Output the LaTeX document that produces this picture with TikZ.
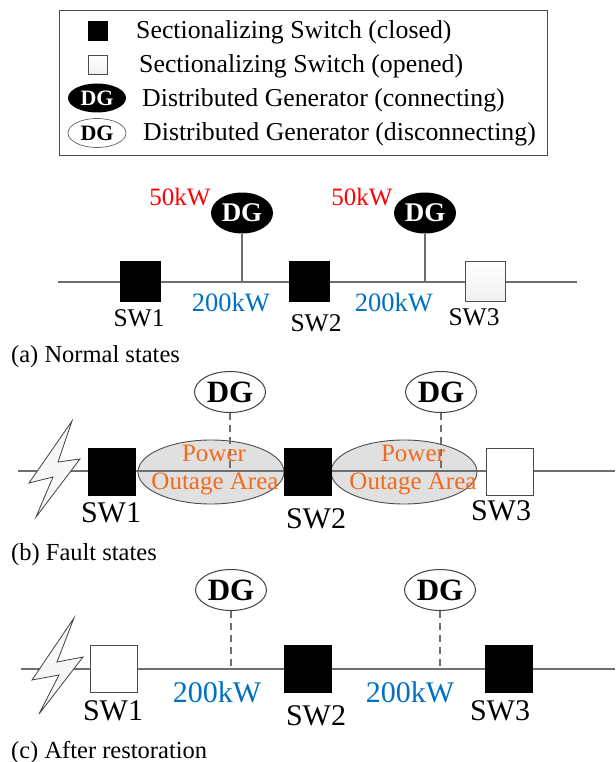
\documentclass[tikz,border=0pt]{standalone}
\usepackage{fontspec}
\setmainfont{Liberation Serif}
\usetikzlibrary{shapes.geometric,shapes.misc}
\definecolor{blueval}{HTML}{0070C0}
\definecolor{orangeval}{HTML}{F26A1B}
\definecolor{wire}{HTML}{6E6E6E}
\newcommand{\fsz}[1]{\fontsize{#1}{#1}\selectfont}
\tikzset{
 x=1pt,y=-1pt,
 swc/.style={draw=black,fill=black,rectangle,inner sep=0pt,minimum width=#1,minimum height=#1},
 swo/.style={draw=black!70,fill=white,rectangle,line width=0.9pt,inner sep=0pt,minimum width=#1,minimum height=#1},
 swg/.style={draw=black!70,top color=white,bottom color=black!6,rectangle,line width=0.9pt,inner sep=0pt,minimum width=#1,minimum height=#1},
 dgon/.style={ellipse,fill=black,text=white,inner sep=0pt,minimum width=#1,font=\fsz{27}\bfseries},
 dgoff/.style={ellipse,draw=black!75,fill=white,line width=1pt,inner sep=0pt,minimum width=#1,font=\fsz{31}\bfseries},
 wireline/.style={draw=wire,line width=1.2pt},
 stem/.style={draw=wire,line width=1.2pt},
 dstem/.style={draw=wire,line width=1.2pt,dash pattern=on 7pt off 5pt},
 outage/.style={ellipse,draw=black!70,fill=black!12,line width=0.9pt,inner sep=0pt,minimum width=146pt,minimum height=64pt},
 bolt/.style={draw=black!75,fill=black!3,line width=0.8pt,line join=miter},
 lab/.style={inner sep=0pt},
}
\begin{document}
\begin{tikzpicture}
\useasboundingbox (0,0) rectangle (615,762);
% legend
\node[draw=black!70,line width=0.9pt,rectangle,minimum width=488pt,minimum height=145pt,inner sep=0pt] (legend) at (303.5,82.5) {};
\node[swc=19pt] (l1) at (98,31) {};
\node[swg=19pt] (l2) at (98,65) {};
\node[dgon=58pt,minimum height=29pt,font=\fsz{22}\bfseries] (l3) at (97,98) {DG};
\node[dgoff=58pt,minimum height=29pt,line width=0.7pt,font=\fsz{22}\bfseries,draw=black!60] (l4) at (97,133) {DG};
\node[lab,anchor=west,font=\fsz{25.8}] (t1) at (136,32) {Sectionalizing Switch (closed)};
\node[lab,anchor=west,font=\fsz{25.8}] (t2) at (139,66) {Sectionalizing Switch (opened)};
\node[lab,anchor=west,font=\fsz{25.8}] (t3) at (142,100) {Distributed Generator (connecting)};
\node[lab,anchor=west,font=\fsz{25.8}] (t4) at (143,134) {Distributed Generator (disconnecting)};
% (a)
\coordinate (aL) at (58,282);
\coordinate (aR) at (577,282);
\coordinate (aj1) at (242,282);
\coordinate (aj2) at (425,282);
\draw[wireline] (aL)--(aR);
\node[swc=40pt] (a1) at (140,281) {};
\node[swc=40pt] (a2) at (309,281) {};
\node[swg=40pt] (a3) at (485,281) {};
\node[dgon=62pt,minimum height=41pt] (ad1) at (242,213) {DG};
\node[dgon=62pt,minimum height=41pt] (ad2) at (425,213) {DG};
\draw[stem] (ad1)--(aj1);
\draw[stem] (ad2)--(aj2);
\node[lab,text=red,font=\fsz{25}] (ap1) at (180,197) {50kW};
\node[lab,text=red,font=\fsz{25}] (ap2) at (362,197) {50kW};
\node[lab,text=blueval,font=\fsz{26.5}] (ab1) at (231,303) {200kW};
\node[lab,text=blueval,font=\fsz{26.5}] (ab2) at (394,303) {200kW};
\node[lab,font=\fsz{25.5}] (as1) at (139,318) {SW1};
\node[lab,font=\fsz{25.5}] (as2) at (316,323) {SW2};
\node[lab,font=\fsz{25.5}] (as3) at (474,317) {SW3};
\node[lab,anchor=west,font=\fsz{24.5}] (ca) at (11,357) {(a) Normal states};
% (b)
\coordinate (bL) at (18,471);
\coordinate (bR) at (615,471);
\coordinate (bj1) at (230,471);
\coordinate (bj2) at (441,471);
\node[outage] (be1) at (211,472) {};
\node[outage] (be2) at (404,472) {};
\draw[wireline] (bL)--(bR);
\node[swc=47pt] (b1) at (112,472) {};
\node[swc=47pt] (b2) at (308,472) {};
\node[swo=47pt] (b3) at (510,472) {};
\node[dgoff=71pt,minimum height=41pt] (bd1) at (230,392) {DG};
\node[dgoff=71pt,minimum height=41pt] (bd2) at (441,392) {DG};
\draw[dstem] (bd1)--(bj1);
\draw[dstem] (bd2)--(bj2);
\filldraw[bolt] (72,421)--(29,483)--(53,477)--(36,517)--(80,459)--(58,462)--cycle;
\node[lab,text=orangeval,font=\fsz{25}] (bp1) at (214,453) {Power};
\node[lab,text=orangeval,font=\fsz{25}] (bo1) at (215,484) {Outage Area};
\node[lab,text=orangeval,font=\fsz{25}] (bp2) at (413,453) {Power};
\node[lab,text=orangeval,font=\fsz{25}] (bo2) at (413,484) {Outage Area};
\node[lab,font=\fsz{30}] (bs1) at (111,513) {SW1};
\node[lab,font=\fsz{30}] (bs2) at (316,519) {SW2};
\node[lab,font=\fsz{30}] (bs3) at (501,511) {SW3};
\node[lab,anchor=west,font=\fsz{24.5}] (cb) at (11,555) {(b) Fault states};
% (c)
\coordinate (cL) at (21,669);
\coordinate (cR) at (615,669);
\coordinate (cj1) at (231,669);
\coordinate (cj2) at (440,669);
\draw[wireline] (cL)--(cR);
\node[swo=47pt] (c1) at (114,669) {};
\node[swc=47pt] (c2) at (308,669) {};
\node[swc=47pt] (c3) at (509,669) {};
\node[dgoff=71pt,minimum height=41pt] (cd1) at (231,590) {DG};
\node[dgoff=71pt,minimum height=41pt] (cd2) at (440,590) {DG};
\draw[dstem] (cd1)--(cj1);
\draw[dstem] (cd2)--(cj2);
\filldraw[bolt] (74,618)--(32,680)--(59,675)--(39,714)--(83,657)--(57,662)--cycle;
\node[lab,text=blueval,font=\fsz{30}] (cb1) at (217,692) {200kW};
\node[lab,text=blueval,font=\fsz{30}] (cb2) at (410,692) {200kW};
\node[lab,font=\fsz{30}] (cs1) at (113,711) {SW1};
\node[lab,font=\fsz{30}] (cs2) at (316,716) {SW2};
\node[lab,font=\fsz{30}] (cs3) at (500,711) {SW3};
\node[lab,anchor=west,font=\fsz{24.5}] (cc) at (11,752) {(c) After restoration};
\end{tikzpicture}
\end{document}
